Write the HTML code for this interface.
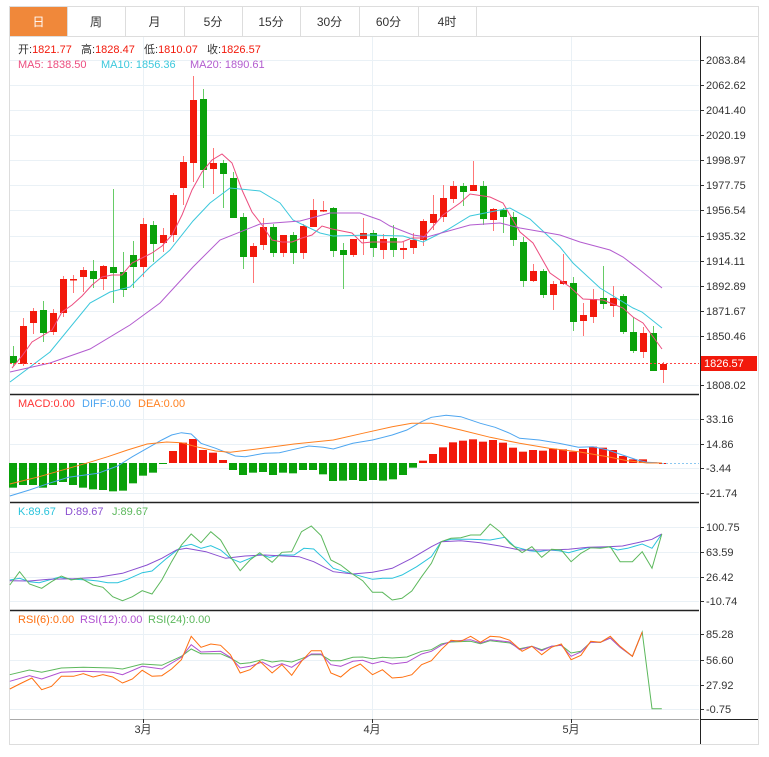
<!DOCTYPE html>
<html><head><meta charset="utf-8">
<style>
body{margin:0;background:#fff;font-family:"Liberation Sans","Noto Sans CJK SC",sans-serif;}
svg{display:block}
</style></head><body>
<svg id="s" width="769" height="757" xmlns="http://www.w3.org/2000/svg" font-family="Liberation Sans, Noto Sans CJK SC, sans-serif"></svg>
<script>
var S=document.getElementById('s');var h='';
function ln(x1,y1,x2,y2,c,w,d){h+='<line x1="'+x1+'" y1="'+y1+'" x2="'+x2+'" y2="'+y2+'" stroke="'+c+'" stroke-width="'+(w||1)+'"'+(d?' stroke-dasharray="'+d+'"':'')+'/>';}
function rc(x,y,w,hh,f,st){h+='<rect x="'+x+'" y="'+y+'" width="'+w+'" height="'+hh+'" fill="'+f+'"'+(st?' stroke="'+st+'"':'')+'/>';}
function tx(x,y,t,c,sz,a){h+='<text x="'+x+'" y="'+y+'" fill="'+c+'" font-size="'+(sz||11)+'"'+(a?' text-anchor="'+a+'"':'')+'>'+t+'</text>';}
function pl(pts,c,w){h+='<polyline fill="none" stroke="'+c+'" stroke-width="'+(w||1)+'" points="'+pts.map(function(p){return p[0].toFixed(1)+','+p[1].toFixed(1)}).join(' ')+'"/>';}
// outer
rc(9.5,36.5,749,708,'none','#ddd');
// tabs
var tabs=['日','周','月','5分','15分','30分','60分','4时'];var tx0=[10,67,125,184,242,300,359,418,476];
rc(9.5,6.5,749,30,'#fff','#ddd');
for(var i=0;i<8;i++){if(i==0)rc(10,7,57,29,'#f0883a');else ln(tx0[i]+.5,7,tx0[i]+.5,36,'#ddd');tx((tx0[i]+tx0[i+1])/2,26,tabs[i],i==0?'#fff':'#333',12,'middle');}
ln(476.5,7,476.5,36,'#ddd');
// grids
var gy=[60,85,110,135,160,185,210,236,261,286,311,336,385];
var gl=['2083.84','2062.62','2041.40','2020.19','1998.97','1977.75','1956.54','1935.32','1914.11','1892.89','1871.67','1850.46','1808.02'];
gy.forEach(function(y,i){ln(10,y+.5,699,y+.5,'#eaf1f6');ln(700,y+.5,704,y+.5,'#333');tx(706,y+4,gl[i],'#333',11);});
[143,372,571].forEach(function(x){ln(x+.5,37,x+.5,719,'#eaf1f6');});
// panel grids
[[419,'33.16'],[444,'14.86'],[468,'-3.44'],[493,'-21.74'],[527,'100.75'],[552,'63.59'],[577,'26.42'],[601,'-10.74'],[634,'85.28'],[660,'56.60'],[685,'27.92'],[709,'-0.75']].forEach(function(a){ln(10,a[0]+.5,699,a[0]+.5,'#eaf1f6');ln(700,a[0]+.5,704,a[0]+.5,'#333');tx(706,a[0]+4,a[1],'#333',11);});
// candles
var C=[[356,363,346,366,0],[326,364,318,366,1],[311,323,308,334,1],[310,333,301,342,0],[313,332,309,335,1],[279,313,276,317,1],[279,279,275,293,1],[270,277,267,292,1],[271,279,260,288,0],[266,279,265,290,1],[267,273,189,303,0],[272,290,252,297,0],[255,267,241,288,0],[224,267,218,277,1],[225,244,221,262,0],[235,243,228,252,1],[195,235,193,242,1],[162,188,156,205,1],[100,163,76,182,1],[99,170,89,188,0],[163,169,148,194,1],[163,174,160,208,0],[178,218,172,218,0],[217,257,213,269,0],[246,257,243,283,1],[227,245,218,250,1],[227,253,224,257,0],[235,253,235,257,1],[235,253,232,264,0],[226,253,224,259,1],[210,227,199,227,1],[210,210,201,212,1],[208,251,207,257,0],[250,255,243,289,0],[239,255,239,257,1],[233,239,218,255,1],[233,248,230,257,0],[239,250,234,259,1],[238,250,225,257,0],[248,250,242,259,1],[240,248,233,254,1],[221,240,219,246,1],[214,223,195,230,1],[198,217,185,222,1],[186,199,181,203,1],[186,192,183,206,0],[185,191,161,191,1],[186,219,181,225,0],[209,220,208,231,1],[210,217,208,233,0],[217,240,212,246,0],[242,281,237,287,0],[271,281,264,282,1],[271,295,269,298,0],[284,295,281,310,1],[281,284,254,285,1],[283,322,277,331,0],[315,321,303,336,1],[299,317,289,323,1],[298,304,266,309,0],[298,306,286,317,1],[296,332,294,334,0],[332,351,317,353,0],[333,352,327,358,1],[333,371,326,371,0],[364,370,362,383,1]];
C.forEach(function(c,i){var x=13+10*i;var col=c[4]?'#f2190b':'#0aa10a',wc=c[4]?'#f77':'#6c6';ln(x+.5,c[2],x+.5,c[3],wc);rc(x-3,c[0],7,Math.max(c[1]-c[0],1.5),col);});
// ma lines
pl([[12,368],[22,356],[32,342],[42,336],[52,330],[62,312],[72,305],[82,296],[92,285],[102,277],[112,275],[122,275],[132,263],[142,258],[152,253],[162,246],[172,235],[182,215],[192,190],[202,172],[212,160],[222,154],[232,163],[242,190],[252,212],[262,225],[272,240],[282,242],[292,242],[302,238],[312,235],[322,226],[332,229],[342,231],[352,233],[362,243],[372,242],[382,242],[392,242],[402,242],[412,238],[423,238],[443,215],[460,203],[470,194],[490,197],[503,203],[520,232],[533,243],[550,273],[570,287],[583,299],[603,300],[623,308],[633,317],[643,323],[662,349]],'#ec4d7f');
pl([[10,382],[50,352],[90,303],[110,292],[130,287],[150,267],[170,250],[193,221],[210,203],[230,188],[260,191],[280,203],[293,220],[320,233],[333,236],[370,235],[403,236],[423,242],[447,230],[470,216],[510,208],[530,219],[560,247],[573,263],[600,288],[633,308],[642,312],[662,328]],'#3cc8dc');
pl([[10,372],[50,363],[90,349],[130,325],[160,303],[193,267],[220,240],[260,224],[300,221],[330,213],[360,213],[380,220],[390,226],[413,235],[427,237],[470,225],[500,223],[520,228],[543,232],[560,235],[580,242],[610,250],[623,257],[640,270],[662,288]],'#b35ccf');
ln(10,363.5,699,363.5,'#f44','1','2,2');
rc(700,356,57,15,'#f2190b');tx(704,367,'1826.57','#fff',11);
tx(18,53,'开:<tspan fill="#f2190b">1821.77</tspan>  高:<tspan fill="#f2190b">1828.47</tspan>  低:<tspan fill="#f2190b">1810.07</tspan>  收:<tspan fill="#f2190b">1826.57</tspan>','#333',11);
h=h.replace(/  /g,'&#160;&#160;&#160;');
tx(18,68,'MA5: 1838.50','#ec4d7f',11);tx(101,68,'MA10: 1856.36','#3cc8dc',11);tx(190,68,'MA20: 1890.61','#b35ccf',11);
// MACD
var M=[293,285,285,293,285,276,285,293,298,300,304,302,280,257,248,222,183,158,147,180,188,210,240,255,248,246,255,248,250,240,240,253,273,272,270,273,270,272,268,255,233,212,192,172,157,152,148,155,150,158,173,185,180,182,176,178,185,177,170,173,180,198,208,208,217,219];
M.forEach(function(v,i){var x=13+10*i;var y=390+v/3,z=463;var red=v<220;rc(x-4,Math.min(y,z),8,Math.max(Math.abs(y-z),1),red?'#f2190b':'#0aa10a');});
function P(a,yo,sy){return a.map(function(p){return [p[0]/2.04,yo+p[1]/(sy||3)]});}
pl(P([[20,318],[60,300],[100,280],[140,262],[200,250],[240,228],[270,200],[300,175],[330,150],[350,135],[370,128],[390,132],[410,160],[440,175],[480,198],[500,200],[540,190],[570,188],[600,178],[630,168],[660,172],[680,177],[720,160],[760,150],[800,135],[830,120],[860,95],[880,82],[910,76],[940,80],[980,100],[1010,112],[1040,130],[1060,145],[1100,150],[1140,160],[1180,172],[1210,170],[1240,180],[1270,195],[1300,210],[1320,217],[1350,219]],390),'#4ea6f0');
pl(P([[20,282],[80,260],[140,235],[180,218],[220,200],[260,180],[300,162],[340,156],[370,158],[400,170],[440,183],[470,187],[520,178],[600,162],[680,150],[740,130],[800,110],[840,100],[880,100],[940,120],[1000,142],[1060,160],[1120,175],[1180,185],[1240,200],[1280,212],[1320,219],[1350,219]],390),'#ff8020');
ln(662,463.5,699,463.5,'#8cc8f0',1,'2,2');
tx(18,407,'MACD:0.00','#f33',11);tx(82,407,'DIFF:0.00','#4ea6f0',11);tx(138,407,'DEA:0.00','#ff8020',11);
// KDJ
pl(P([[20,240],[40,235],[60,245],[80,248],[100,240],[120,232],[150,238],[180,240],[200,243],[220,248],[240,248],[260,238],[290,218],[310,213],[340,175],[370,140],[390,133],[410,145],[430,137],[450,150],[470,175],[490,187],[510,175],[530,163],[550,172],[570,165],[600,165],[620,145],[640,147],[660,175],[680,205],[710,218],[740,230],[760,238],[780,235],[800,235],[820,225],[850,200],[880,170],[900,125],[920,118],[960,118],[1000,120],[1030,112],[1050,140],[1080,152],[1100,155],[1120,150],[1140,152],[1160,158],[1180,150],[1200,143],[1220,143],[1240,140],[1260,150],[1280,145],[1310,132],[1330,145],[1350,102]],500),'#2ac4dc');
pl(P([[20,242],[60,243],[100,238],[150,236],[200,232],[250,220],[300,195],[330,175],[360,150],[380,145],[420,155],[460,175],[500,168],[540,165],[580,168],[610,170],[640,185],[680,215],[720,222],[760,217],[800,205],[840,175],[880,140],[900,125],[940,122],[980,128],[1020,138],[1060,150],[1120,150],[1160,148],[1200,142],[1240,140],[1270,138],[1300,128],[1330,118],[1350,102]],500),'#8a4fd0');
pl(P([[20,255],[40,215],[60,252],[85,265],[105,245],[125,228],[145,240],[165,235],[190,255],[210,262],[230,290],[250,302],[270,290],[290,272],[310,282],[330,240],[350,185],[370,135],[390,102],[410,128],[430,95],[450,120],[470,170],[490,212],[510,180],[530,158],[555,187],[575,157],[595,155],[615,95],[635,78],[655,107],[675,180],[695,195],[715,218],[740,242],[760,277],[780,277],[800,300],[820,295],[840,273],[860,230],[880,190],[900,125],[920,115],[940,113],[960,105],[980,105],[1000,72],[1020,95],[1040,130],[1065,158],[1085,140],[1105,172],[1125,148],[1145,150],[1165,185],[1185,160],[1205,143],[1225,145],[1245,140],[1265,185],[1290,185],[1310,155],[1330,205],[1350,102]],500),'#5cb85c');
tx(18,515,'K:89.67','#2ac4dc',11);tx(65,515,'D:89.67','#8a4fd0',11);tx(112,515,'J:89.67','#5cb85c',11);
// RSI
pl(P([[20,200],[60,186],[85,193],[125,180],[170,178],[230,180],[250,183],[290,168],[330,172],[370,145],[390,123],[410,137],[450,137],[470,150],[490,167],[510,164],[535,155],[555,162],[575,158],[595,162],[615,152],[635,140],[655,140],[675,158],[695,158],[720,148],[740,147],[760,152],[780,148],[800,150],[830,147],[860,130],[880,125],[900,108],[920,102],[960,100],[980,107],[1000,98],[1040,105],[1060,122],[1085,115],[1105,125],[1125,115],[1145,112],[1165,135],[1185,130],[1205,103],[1225,103],[1245,90],[1265,118],[1290,145],[1310,72],[1330,302],[1350,302]],608),'#5cb85c');
pl(P([[20,220],[60,203],[85,213],[125,193],[170,190],[230,193],[250,200],[290,175],[330,183],[370,148],[390,110],[410,132],[450,130],[470,148],[490,180],[510,175],[535,162],[555,178],[575,167],[595,178],[615,158],[635,138],[655,138],[675,170],[695,175],[720,160],[740,157],[760,167],[780,160],[800,168],[830,163],[860,138],[880,130],[900,112],[920,100],[960,95],[980,105],[1000,95],[1040,102],[1060,125],[1085,115],[1105,128],[1125,115],[1145,112],[1165,145],[1185,132],[1205,103],[1225,103],[1245,90],[1265,118],[1290,145],[1310,72]],608),'#b050d0');
pl(P([[20,243],[40,228],[65,210],[85,245],[105,235],[125,205],[150,205],[170,197],[190,207],[210,200],[230,207],[250,225],[270,213],[290,187],[310,205],[330,203],[350,183],[370,155],[390,85],[410,118],[430,108],[450,112],[470,140],[490,195],[510,185],[530,160],[555,195],[575,170],[595,202],[615,160],[635,128],[655,128],[675,195],[695,207],[715,182],[735,168],[760,200],[780,185],[800,210],[820,208],[840,200],[860,170],[880,158],[900,125],[920,97],[940,100],[960,85],[980,103],[1000,85],[1020,87],[1040,97],[1065,130],[1085,115],[1105,140],[1125,118],[1145,108],[1165,155],[1185,142],[1205,100],[1225,103],[1245,85],[1265,115],[1290,145],[1310,72]],608),'#ff7010');
tx(18,623,'RSI(6):0.00','#ff7010',11);tx(80,623,'RSI(12):0.00','#b050d0',11);tx(148,623,'RSI(24):0.00','#5cb85c',11);
// separators & axis
[394,502,610].forEach(function(y){ln(10,y+.5,699,y+.5,'#222',1.5);});
ln(10,719.5,699,719.5,'#aaa');ln(700,719.5,758,719.5,'#222');
ln(700.5,36,700.5,744,'#222');
[143,372,571].forEach(function(x,i){ln(x+.5,719,x+.5,723,'#333');tx(x,733,['3月','4月','5月'][i],'#333',11,'middle');});
S.innerHTML=h;
</script>
</body></html>
